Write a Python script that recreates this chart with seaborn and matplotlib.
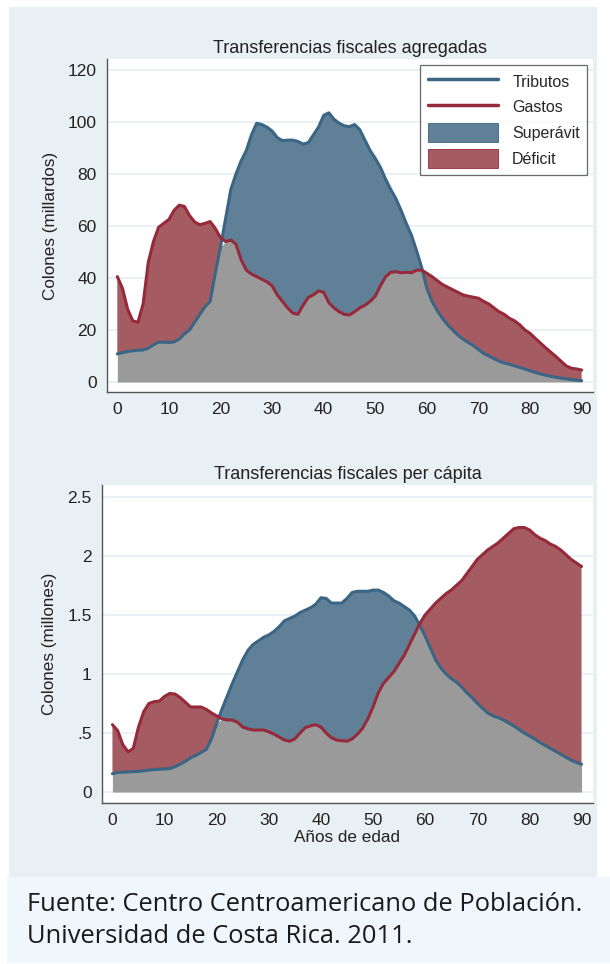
import matplotlib
matplotlib.use("Agg")
import matplotlib.pyplot as plt
import seaborn as sns
import numpy as np
import pandas as pd
from matplotlib.patches import Rectangle, Patch
from matplotlib.lines import Line2D

# ---------------------------------------------------------------
# DATOS
# ---------------------------------------------------------------
edad = list(range(0, 91))

tributos_agr = [
    10.8, 11.3, 11.7, 12.0, 12.2, 12.3, 13.0, 14.3, 15.3, 15.3,
    15.2, 15.4, 16.5, 18.5, 20.0, 23.0, 26.0, 29.0, 31.0, 42.0,
    52.0, 63.0, 74.0, 80.0, 85.0, 89.0, 95.0, 99.5, 99.0, 98.0,
    96.5, 94.0, 92.8, 93.0, 93.0, 92.5, 91.5, 92.0, 95.0, 98.0,
    102.5, 103.5, 101.0, 99.5, 98.5, 98.2, 99.0, 97.0, 93.0, 89.0,
    86.0, 82.5, 78.0, 74.0, 70.5, 66.0, 61.0, 56.5, 50.5, 44.0,
    36.0, 31.0, 27.5, 24.5, 22.0, 20.0, 18.0, 16.5, 15.2, 14.0,
    12.5, 11.0, 10.0, 9.0, 8.0, 7.3, 6.8, 6.2, 5.6, 5.0,
    4.3, 3.7, 3.1, 2.6, 2.2, 1.8, 1.5, 1.2, 0.9, 0.7, 0.5]

gastos_agr = [
    40.5, 36.0, 28.0, 23.5, 23.0, 30.0, 46.0, 54.0, 59.5, 61.0,
    62.5, 66.0, 68.0, 67.5, 64.0, 61.5, 60.5, 61.0, 61.7, 59.0,
    55.5, 54.0, 54.6, 53.0, 47.0, 43.0, 41.5, 40.5, 39.5, 38.5,
    37.0, 33.5, 31.0, 28.5, 26.5, 26.0, 29.5, 32.5, 33.5, 35.0,
    34.5, 30.5, 28.5, 27.0, 26.0, 25.8, 27.0, 28.5, 29.5, 31.0,
    33.0, 37.0, 40.5, 42.2, 42.4, 42.0, 42.2, 42.0, 43.0, 43.0,
    41.8, 40.5, 39.0, 37.5, 36.5, 35.5, 34.5, 33.5, 33.0, 32.6,
    32.2, 31.0, 30.0, 28.5, 27.0, 26.0, 24.5, 23.5, 22.0, 20.0,
    18.7, 16.8, 15.0, 13.2, 11.5, 9.8, 8.0, 6.2, 5.3, 5.0, 4.6]

tributos_pc = [
    0.155, 0.165, 0.168, 0.170, 0.172, 0.175, 0.180, 0.186, 0.190, 0.193,
    0.195, 0.198, 0.215, 0.235, 0.260, 0.290, 0.310, 0.335, 0.360, 0.450,
    0.580, 0.700, 0.810, 0.920, 1.020, 1.120, 1.200, 1.250, 1.280, 1.310,
    1.330, 1.360, 1.400, 1.450, 1.470, 1.490, 1.520, 1.540, 1.560, 1.590,
    1.645, 1.640, 1.600, 1.600, 1.600, 1.640, 1.690, 1.700, 1.700, 1.700,
    1.710, 1.710, 1.690, 1.660, 1.620, 1.600, 1.570, 1.540, 1.490, 1.410,
    1.320, 1.220, 1.120, 1.050, 1.000, 0.960, 0.930, 0.890, 0.840, 0.800,
    0.750, 0.710, 0.670, 0.645, 0.630, 0.610, 0.585, 0.560, 0.530, 0.500,
    0.475, 0.450, 0.420, 0.395, 0.370, 0.345, 0.320, 0.295, 0.270, 0.250, 0.235]

gastos_pc = [
    0.570, 0.520, 0.400, 0.340, 0.370, 0.550, 0.680, 0.750, 0.765, 0.770,
    0.810, 0.835, 0.830, 0.800, 0.760, 0.720, 0.720, 0.720, 0.700, 0.670,
    0.645, 0.620, 0.610, 0.610, 0.590, 0.550, 0.535, 0.525, 0.525, 0.525,
    0.510, 0.490, 0.465, 0.440, 0.430, 0.450, 0.500, 0.545, 0.560, 0.570,
    0.550, 0.500, 0.460, 0.440, 0.435, 0.430, 0.450, 0.490, 0.540, 0.620,
    0.720, 0.840, 0.920, 0.970, 1.020, 1.090, 1.160, 1.250, 1.340, 1.430,
    1.500, 1.550, 1.600, 1.640, 1.680, 1.710, 1.750, 1.790, 1.850, 1.910,
    1.970, 2.010, 2.050, 2.080, 2.110, 2.150, 2.190, 2.230, 2.240, 2.240,
    2.220, 2.180, 2.150, 2.130, 2.100, 2.080, 2.050, 2.010, 1.970, 1.940, 1.910]

xticks = list(range(0, 91, 10))
yticks_agr = [0, 20, 40, 60, 80, 100, 120]
yticks_pc = [0, 0.5, 1, 1.5, 2, 2.5]
ylabels_pc = ['0', '.5', '1', '1.5', '2', '2.5']

# ---------------------------------------------------------------
# ESTILO
# ---------------------------------------------------------------
sns.set_style("white")
plt.rcParams['font.family'] = ['Liberation Sans', 'DejaVu Sans']
plt.rcParams['font.size'] = 10

COR_SUP = '#5f8097'
COR_DEF = '#a45b61'
COR_GRIS = '#9a9a9a'
COR_TRIB = '#3b6584'
COR_GAST = '#962a3a'
COR_FONDO = '#e9f0f3'
COR_GRID = '#e6eff2'
COR_EJE = '#555555'


def panel(ax, df, titulo, yticks, ylabels, ylim, rotulo_y, leyenda=False, rotulo_x=''):
    x = df['edad'].values
    t = df['tributos'].values
    g = df['gastos'].values

    ax.set_facecolor('white')
    ax.fill_between(x, 0, np.minimum(t, g), color=COR_GRIS, lw=0, zorder=1)
    ax.fill_between(x, g, t, where=t >= g, interpolate=True, color=COR_SUP, lw=0, zorder=1)
    ax.fill_between(x, t, g, where=g >= t, interpolate=True, color=COR_DEF, lw=0, zorder=1)
    sns.lineplot(data=df, x='edad', y='tributos', ax=ax, color=COR_TRIB, lw=2.2, zorder=3)
    sns.lineplot(data=df, x='edad', y='gastos', ax=ax, color=COR_GAST, lw=2.2, zorder=3)

    ax.set_xlim(-2.0, 92.2)
    ax.set_ylim(*ylim)
    ax.set_xticks(xticks)
    ax.set_yticks(yticks)
    ax.set_yticklabels(ylabels)
    for yv in yticks:
        ax.axhline(yv, color=COR_GRID, lw=1.2, zorder=0)

    ax.set_title(titulo, fontsize=13, pad=4, color='#222222')
    ax.set_ylabel(rotulo_y, fontsize=12.3, labelpad=7, color='#222222')
    ax.set_xlabel(rotulo_x, fontsize=12.3, labelpad=1, color='#222222')

    sns.despine(ax=ax, top=True, right=True)
    for lado in ['left', 'bottom']:
        ax.spines[lado].set_color(COR_EJE)
        ax.spines[lado].set_linewidth(1.0)
    ax.tick_params(axis='both', direction='out', length=5, width=1.0,
                   color=COR_EJE, labelsize=12.5, labelcolor='#222222', pad=2.5)

    if leyenda:
        handles = [Line2D([], [], color=COR_TRIB, lw=2.5),
                   Line2D([], [], color=COR_GAST, lw=2.5),
                   Patch(facecolor=COR_SUP, edgecolor=COR_TRIB, lw=0.6),
                   Patch(facecolor=COR_DEF, edgecolor=COR_GAST, lw=0.6)]
        leg = ax.legend(handles, ['Tributos', 'Gastos', 'Superávit', 'Déficit'],
                        loc='upper right', bbox_to_anchor=(0.988, 0.982),
                        borderaxespad=0, fontsize=11.5, frameon=True, fancybox=False,
                        handlelength=4.4, handleheight=1.4, handletextpad=0.9,
                        labelspacing=0.45, borderpad=0.45)
        leg.get_frame().set_edgecolor('#444444')
        leg.get_frame().set_linewidth(0.9)


df_agr = pd.DataFrame({'edad': edad, 'tributos': tributos_agr, 'gastos': gastos_agr})
df_pc = pd.DataFrame({'edad': edad, 'tributos': tributos_pc, 'gastos': gastos_pc})

fig = plt.figure(figsize=(6.1, 9.64), dpi=100)
fig.patch.set_facecolor('white')
fig.patches.append(Rectangle((9 / 610, 1 - 877 / 964), 588 / 610, 870 / 964,
                             transform=fig.transFigure, facecolor=COR_FONDO,
                             edgecolor='none', zorder=-10))
fig.patches.append(Rectangle((7 / 610, 1 - 963 / 964), 603 / 610, 86 / 964,
                             transform=fig.transFigure, facecolor='#eff6fc',
                             edgecolor='none', zorder=-10))

ax1 = fig.add_axes([107 / 610, 1 - 392 / 964, 486 / 610, 333 / 964])
ax2 = fig.add_axes([102 / 610, 1 - 803 / 964, 491 / 610, 318 / 964])

panel(ax1, df_agr, 'Transferencias fiscales agregadas', yticks_agr,
      [str(v) for v in yticks_agr], (-3.85, 124.2), 'Colones (millardos)', leyenda=True)
panel(ax2, df_pc, 'Transferencias fiscales per cápita', yticks_pc, ylabels_pc,
      (-0.093, 2.60), 'Colones (millones)', rotulo_x='Años de edad')

fig.text(27 / 610, 1 - 943 / 964,
         'Fuente: Centro Centroamericano de Población.\nUniversidad de Costa Rica. 2011.',
         ha='left', va='baseline', fontsize=18.4, family=['Open Sans', 'DejaVu Sans'],
         color='#1a1a1a', linespacing=1.36)

fig.savefig('out.png', dpi=100, facecolor=fig.get_facecolor())
